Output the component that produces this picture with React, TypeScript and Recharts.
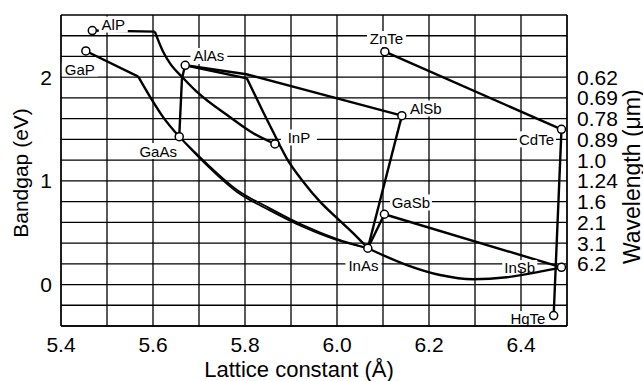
import {
  ComposedChart,
  Line,
  Scatter,
  XAxis,
  YAxis,
  CartesianGrid,
  Label,
} from "recharts";

// compounds (lattice constant in Å, bandgap in eV)
const compounds = ["AlP", "GaP", "AlAs", "GaAs", "InP", "ZnTe", "AlSb", "CdTe", "GaSb", "InAs", "InSb", "HgTe"];
const lattice = [5.468, 5.454, 5.67, 5.657, 5.865, 6.104, 6.141, 6.488, 6.103, 6.067, 6.488, 6.471];
const bandgap = [2.45, 2.253, 2.115, 1.426, 1.356, 2.246, 1.629, 1.497, 0.678, 0.35, 0.166, -0.299];

// alloy curves, [lattice, bandgap]
const alpFlat = [[5.468, 2.45], [5.604, 2.44]];
const alInP = [[5.604, 2.44], [5.622, 2.246], [5.637, 2.134], [5.665, 1.995], [5.695, 1.86], [5.767, 1.616], [5.818, 1.459], [5.865, 1.356]];
const gapKink = [[5.454, 2.253], [5.568, 2.005]];
const gapGaAs = [[5.568, 2.005], [5.593, 1.815], [5.622, 1.615], [5.657, 1.426]];
const gaInAsA = [[5.657, 1.426], [5.709, 1.2], [5.782, 0.915], [5.854, 0.735], [5.927, 0.57], [5.999, 0.44], [6.067, 0.35]];
const gaInAsB = [[5.657, 1.426], [5.709, 1.185], [5.782, 0.895], [5.854, 0.715], [5.927, 0.555], [5.999, 0.43], [6.067, 0.35]];
const alGaAs = [[5.67, 2.115], [5.663, 1.99], [5.657, 1.426]];
const alAsSb = [[5.67, 2.115], [5.803, 2.028], [6.141, 1.629]];
const alAsKink = [[5.67, 2.115], [5.804, 1.989]];
const alInAs = [[5.804, 1.989], [5.84, 1.66], [5.867, 1.42], [5.891, 1.215], [5.927, 0.99], [5.963, 0.8], [5.999, 0.645], [6.035, 0.495], [6.067, 0.35]];
const alSbInAs = [[6.141, 1.629], [6.067, 0.35]];
const gaSbInAs = [[6.103, 0.678], [6.067, 0.35]];
const gaSbInSb = [[6.103, 0.678], [6.488, 0.166]];
const inAsSb = [[6.067, 0.35], [6.152, 0.188], [6.224, 0.092], [6.296, 0.051], [6.369, 0.07], [6.441, 0.124], [6.488, 0.166]];
const znCdTe = [[6.104, 2.246], [6.488, 1.497]];
const cdHgTe = [[6.488, 1.497], [6.471, -0.299]];

// ticks
const xTicks = [5.4, 5.5, 5.6, 5.7, 5.8, 5.9, 6.0, 6.1, 6.2, 6.3, 6.4, 6.5];
const xTickLabels = ["5.4", "5.6", "5.8", "6.0", "6.2", "6.4"];
const yTicks = [-0.4, -0.2, 0, 0.2, 0.4, 0.6, 0.8, 1.0, 1.2, 1.4, 1.6, 1.8, 2.0, 2.2, 2.4, 2.6];
const wlTicks = [2.0, 1.8, 1.6, 1.4, 1.2, 1.0, 0.8, 0.6, 0.4, 0.2];
const wlLabels = ["0.62", "0.69", "0.78", "0.89", "1.0", "1.24", "1.6", "2.1", "3.1", "6.2"];

// label placement relative to the point
const labelLayout: Record<string, { dx: number; dy: number; w: number; h: number; by?: number }> = {
  AlP: { dx: 21, dy: -6, w: 29, h: 16 },
  GaP: { dx: -6, dy: 18.5, w: 36, h: 14 },
  AlAs: { dx: 23.7, dy: -9.3, w: 37, h: 16 },
  GaAs: { dx: -21, dy: 14.3, w: 43, h: 16 },
  InP: { dx: 24, dy: -6.5, w: 36, h: 16 },
  ZnTe: { dx: 1.7, dy: -12.7, w: 39, h: 16 },
  AlSb: { dx: 24, dy: -7.2, w: 38, h: 16 },
  CdTe: { dx: -25, dy: 10, w: 39, h: 16 },
  GaSb: { dx: 26.5, dy: -11.8, w: 42, h: 16 },
  InAs: { dx: -4.4, dy: 17.5, w: 36, h: 16 },
  InSb: { dx: -41.7, dy: 0.2, w: 35, h: 9, by: -3 },
  HgTe: { dx: -25.7, dy: 2.5, w: 43, h: 14 },
};

const points = compounds.map((name, i) => ({ name, x: lattice[i], y: bandgap[i] }));
const toXY = (arr: number[][]) => arr.map(([x, y]) => ({ x, y }));

const curves = [
  { key: "alpFlat", d: alpFlat, type: "linear" },
  { key: "alInP", d: alInP, type: "monotone" },
  { key: "gapKink", d: gapKink, type: "linear" },
  { key: "gapGaAs", d: gapGaAs, type: "monotone" },
  { key: "gaInAsA", d: gaInAsA, type: "monotone", w: 1.8 },
  { key: "gaInAsB", d: gaInAsB, type: "monotone", w: 1.8 },
  { key: "alGaAs", d: alGaAs, type: "linear" },
  { key: "alAsSb", d: alAsSb, type: "linear" },
  { key: "alAsKink", d: alAsKink, type: "linear" },
  { key: "alInAs", d: alInAs, type: "monotone" },
  { key: "alSbInAs", d: alSbInAs, type: "linear" },
  { key: "gaSbInAs", d: gaSbInAs, type: "linear" },
  { key: "gaSbInSb", d: gaSbInSb, type: "linear" },
  { key: "inAsSb", d: inAsSb, type: "monotone" },
  { key: "znCdTe", d: znCdTe, type: "linear" },
  { key: "cdHgTe", d: cdHgTe, type: "linear" },
];

const PointMark = (props: any) => {
  const { cx, cy } = props;
  const name = props.payload?.name ?? props.name;
  const l = labelLayout[name];
  if (cx == null || cy == null) return null;
  const tx = cx + l.dx;
  const ty = cy + l.dy;
  const bc = ty + (l.by ?? 0);
  return (
    <g>
      <rect x={tx - l.w / 2} y={bc - l.h / 2} width={l.w} height={l.h} fill="#fff" />
      <text x={tx} y={ty} textAnchor="middle" dominantBaseline="central" fontSize={15} fill="#000">
        {name}
      </text>
      <circle cx={cx} cy={cy} r={4} fill="#fff" stroke="#000" strokeWidth={1.5} />
    </g>
  );
};

const fmtX = (v: number) => {
  const i = xTicks.findIndex((t) => Math.abs(t - v) < 1e-6);
  return i >= 0 && i % 2 === 0 ? xTickLabels[i / 2] : "";
};
const fmtY = (v: number) => (Math.abs(v - Math.round(v)) < 1e-6 ? String(Math.round(v)) : "");
const fmtWl = (v: number) => {
  const i = wlTicks.findIndex((t) => Math.abs(t - v) < 1e-6);
  return i >= 0 ? wlLabels[i] : "";
};

const App = () => {
  return (
    <div style={{ position: "absolute", left: 0, top: 0, fontFamily: "'Liberation Sans', Arial, sans-serif", background: "#fff" }}>
      <ComposedChart width={643} height={381} margin={{ top: 15, right: 0, bottom: 0, left: 0 }}>
        <CartesianGrid stroke="#000" strokeWidth={1.3} yAxisId="left" />
        <XAxis
          type="number"
          dataKey="x"
          domain={[5.4, 6.5]}
          ticks={xTicks}
          interval={0}
          tickFormatter={fmtX}
          tickLine={false}
          tickMargin={5}
          axisLine={{ stroke: "#000", strokeWidth: 1.3 }}
          tick={{ fill: "#000", fontSize: 21 }}
          height={55}
          allowDataOverflow
        >
          <Label
            content={(p: any) => {
              const vb = p.viewBox || { x: 61, y: 326, width: 506 };
              return (
                <text x={vb.x + vb.width / 2 - 15} y={vb.y + 50.7} textAnchor="middle" fontSize={22} fill="#000">
                  Lattice constant (Å)
                </text>
              );
            }}
          />
        </XAxis>
        <YAxis
          yAxisId="left"
          type="number"
          dataKey="y"
          domain={[-0.4, 2.6]}
          ticks={yTicks}
          interval={0}
          tickFormatter={fmtY}
          tickLine={false}
          tickMargin={3}
          axisLine={{ stroke: "#000", strokeWidth: 1.3 }}
          tick={{ fill: "#000", fontSize: 21 }}
          width={61}
          allowDataOverflow
        >
          <Label
            content={() => (
              <text x={28.3} y={173} transform="rotate(-90, 28.3, 173)" textAnchor="middle" fontSize={21} fill="#000">
                Bandgap (eV)
              </text>
            )}
          />
        </YAxis>
        <YAxis
          yAxisId="right"
          orientation="right"
          type="number"
          domain={[-0.4, 2.6]}
          ticks={wlTicks}
          interval={0}
          tickFormatter={fmtWl}
          tickLine={false}
          tickMargin={4}
          axisLine={{ stroke: "#000", strokeWidth: 1.3 }}
          tick={{ fill: "#000", fontSize: 21 }}
          width={76}
          allowDataOverflow
        >
          <Label
            content={() => (
              <text x={640} y={176.7} transform="rotate(-90, 640, 176.7)" textAnchor="middle" fontSize={23} fill="#000">
                Wavelength (μm)
              </text>
            )}
          />
        </YAxis>
        {curves.map((c) => (
          <Line
            key={c.key}
            yAxisId="left"
            data={toXY(c.d)}
            dataKey="y"
            type={c.type as any}
            stroke="#000"
            strokeWidth={c.w ?? 2.4}
            dot={false}
            activeDot={false}
            isAnimationActive={false}
          />
        ))}
        <Scatter yAxisId="left" data={points} dataKey="y" shape={PointMark} isAnimationActive={false} />
      </ComposedChart>
    </div>
  );
};

export default App;
